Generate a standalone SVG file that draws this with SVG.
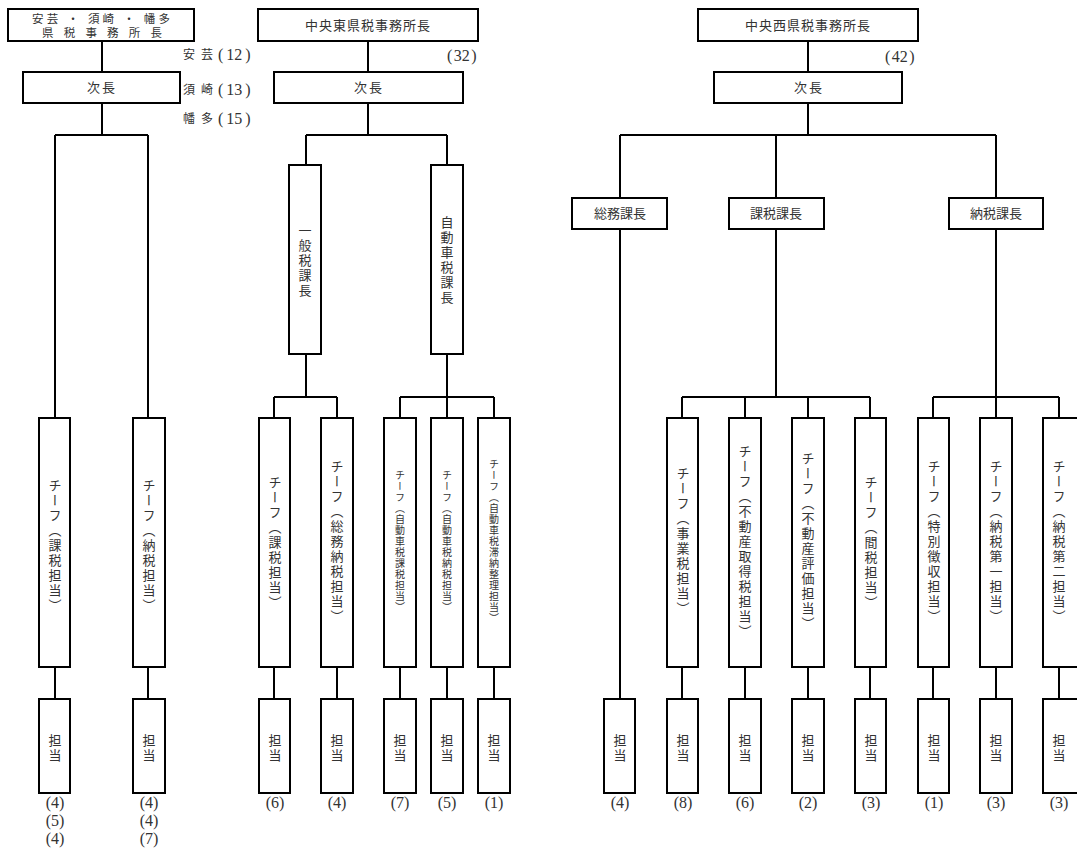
<svg xmlns="http://www.w3.org/2000/svg" width="1077" height="849" viewBox="0 0 1077 849">
<style>
.b{fill:#fff;stroke:#000;stroke-width:2}
.c{fill:none;stroke:#000;stroke-width:2}
.t{font-family:"Noto Sans CJK JP","Noto Sans",sans-serif;font-size:13px;fill:#333;text-anchor:middle}
.t2{font-family:"Noto Sans CJK JP","Noto Sans",sans-serif;font-size:11.5px;fill:#333}
.vs{font-family:"Noto Sans CJK JP","Noto Sans",sans-serif;font-size:10px;fill:#333;text-anchor:middle;writing-mode:vertical-rl;letter-spacing:1px}
.vk{font-family:"Noto Sans CJK JP","Noto Sans",sans-serif;font-size:13px;fill:#333;text-anchor:middle;writing-mode:vertical-rl;letter-spacing:2px}
.n{font-family:"Liberation Serif","Noto Sans CJK JP",serif;font-size:16px;fill:#333;text-anchor:middle}
.l{font-family:"Liberation Serif","Noto Sans CJK JP",serif;font-size:16px;fill:#333}
.lj{font-family:"Noto Sans CJK JP",sans-serif;font-size:12px;fill:#333;letter-spacing:6px}
</style>
<rect width="1077" height="849" fill="#fff"/>
<g id="connectors">
<path class="c" d="M102 41V72M102 103V135M55 135H148M55 135V418M148 135V418M55 667V699M148 667V699"/>
<path class="c" d="M368 41V72M368 103V135M306 135H447M306 135V165M447 135V165M306 354V397M447 354V397M274 397H337M274 397V418M337 397V418M400 397H494M400 397V418M447 397V418M494 397V418M274 667V699M337 667V699M400 667V699M447 667V699M494 667V699"/>
<path class="c" d="M808 41V72M808 103V135M620 135H996M620 135V198M776 135V198M996 135V198M620 229V699M776 229V397M682 397H870M682 397V418M745 397V418M808 397V418M870 397V418M996 229V397M933 397H1059M933 397V418M996 397V418M1059 397V418M682 667V699M745 667V699M808 667V699M870 667V699M933 667V699M996 667V699M1059 667V699"/>
</g>
<g id="n-aki-chief"><rect class="b" x="8" y="9" width="186" height="32"/><text class="t2" x="32" y="23" textLength="138" lengthAdjust="spacing">安芸 ・ 須崎 ・ 幡多</text><text class="t2" x="42" y="37" textLength="120" lengthAdjust="spacing">県税事務所長</text></g>
<g id="n-aki-deputy"><rect class="b" x="23" y="72" width="157" height="31"/><text class="t" x="102" y="92" letter-spacing="2">次長</text></g>
<g id="n-aki-counts">
<text class="lj" x="183" y="59">安芸</text><text class="l" x="218" y="60">(<tspan dx="3">12</tspan><tspan dx="3">)</tspan></text>
<text class="lj" x="183" y="94">須崎</text><text class="l" x="218" y="95">(<tspan dx="3">13</tspan><tspan dx="3">)</tspan></text>
<text class="lj" x="183" y="123">幡多</text><text class="l" x="218" y="124">(<tspan dx="3">15</tspan><tspan dx="3">)</tspan></text>
</g>
<g id="n-aki-c1"><rect class="b" x="39" y="418" width="31" height="249"/><text class="vk" x="55" y="546">チーフ（課税担当）</text></g>
<g id="n-aki-c2"><rect class="b" x="133" y="418" width="32" height="249"/><text class="vk" x="149" y="546">チーフ（納税担当）</text></g>
<g id="n-aki-s1"><rect class="b" x="39" y="699" width="31" height="94"/><text class="vk" x="55" y="749">担当</text><text class="n" x="55" y="808">(4)</text><text class="n" x="55" y="826">(5)</text><text class="n" x="55" y="844">(4)</text></g>
<g id="n-aki-s2"><rect class="b" x="133" y="699" width="32" height="94"/><text class="vk" x="149" y="749">担当</text><text class="n" x="149" y="808">(4)</text><text class="n" x="149" y="826">(4)</text><text class="n" x="149" y="844">(7)</text></g>

<g id="n-east-chief"><rect class="b" x="258" y="9" width="220" height="32"/><text class="t" x="368" y="30" letter-spacing="1">中央東県税事務所長</text></g>
<text class="l" x="447" y="61">(<tspan dx="1.5">32</tspan><tspan dx="1.5">)</tspan></text>
<g id="n-east-deputy"><rect class="b" x="274" y="72" width="189" height="31"/><text class="t" x="369" y="92" letter-spacing="2">次長</text></g>
<g id="n-east-k1"><rect class="b" x="289" y="165" width="32" height="189"/><text class="vk" x="305" y="261" letter-spacing="3.5">一般税課長</text></g>
<g id="n-east-k2"><rect class="b" x="431" y="165" width="32" height="189"/><text class="vk" x="447" y="261" letter-spacing="2">自動車税課長</text></g>
<g id="n-east-c1"><rect class="b" x="259" y="418" width="31" height="249"/><text class="vk" x="275" y="543" letter-spacing="2">チーフ（課税担当）</text></g>
<g id="n-east-c2"><rect class="b" x="321" y="418" width="32" height="249"/><text class="vk" x="337" y="542" letter-spacing="1.5">チーフ（総務納税担当）</text></g>
<g id="n-east-c3"><rect class="b" x="384" y="418" width="32" height="249"/><text class="vs" x="400" y="542">チーフ（自動車税課税担当）</text></g>
<g id="n-east-c4"><rect class="b" x="431" y="418" width="32" height="249"/><text class="vs" x="447" y="542">チーフ（自動車税納税担当）</text></g>
<g id="n-east-c5"><rect class="b" x="478" y="418" width="32" height="249"/><text class="vs" x="494" y="542">チーフ（自動車税滞納整理担当）</text></g>
<g id="n-east-s1"><rect class="b" x="259" y="699" width="31" height="94"/><text class="vk" x="275" y="749">担当</text><text class="n" x="275" y="808">(6)</text></g>
<g id="n-east-s2"><rect class="b" x="321" y="699" width="32" height="94"/><text class="vk" x="337" y="749">担当</text><text class="n" x="337" y="808">(4)</text></g>
<g id="n-east-s3"><rect class="b" x="384" y="699" width="32" height="94"/><text class="vk" x="400" y="749">担当</text><text class="n" x="400" y="808">(7)</text></g>
<g id="n-east-s4"><rect class="b" x="431" y="699" width="32" height="94"/><text class="vk" x="447" y="749">担当</text><text class="n" x="447" y="808">(5)</text></g>
<g id="n-east-s5"><rect class="b" x="478" y="699" width="32" height="94"/><text class="vk" x="494" y="749">担当</text><text class="n" x="494" y="808">(1)</text></g>

<g id="n-west-chief"><rect class="b" x="698" y="9" width="220" height="32"/><text class="t" x="808" y="30" letter-spacing="1">中央西県税事務所長</text></g>
<text class="l" x="885" y="62">(<tspan dx="1.5">42</tspan><tspan dx="1.5">)</tspan></text>
<g id="n-west-deputy"><rect class="b" x="714" y="72" width="188" height="31"/><text class="t" x="809" y="92" letter-spacing="2">次長</text></g>
<g id="n-west-k1"><rect class="b" x="572" y="198" width="95" height="31"/><text class="t" x="620" y="218">総務課長</text></g>
<g id="n-west-k2"><rect class="b" x="729" y="198" width="95" height="31"/><text class="t" x="776" y="218">課税課長</text></g>
<g id="n-west-k3"><rect class="b" x="949" y="198" width="94" height="31"/><text class="t" x="996" y="218">納税課長</text></g>
<g id="n-west-c1"><rect class="b" x="667" y="418" width="31" height="249"/><text class="vk" x="683" y="542" letter-spacing="1.5">チーフ（事業税担当）</text></g>
<g id="n-west-c2"><rect class="b" x="729" y="418" width="32" height="249"/><text class="vk" x="745" y="542" letter-spacing="1.5">チーフ（不動産取得税担当）</text></g>
<g id="n-west-c3"><rect class="b" x="792" y="418" width="32" height="249"/><text class="vk" x="808" y="542" letter-spacing="1.5">チーフ（不動産評価担当）</text></g>
<g id="n-west-c4"><rect class="b" x="855" y="418" width="31" height="249"/><text class="vk" x="871" y="543" letter-spacing="1.5">チーフ（間税担当）</text></g>
<g id="n-west-c5"><rect class="b" x="918" y="418" width="31" height="249"/><text class="vk" x="934" y="542" letter-spacing="1.5">チーフ（特別徴収担当）</text></g>
<g id="n-west-c6"><rect class="b" x="980" y="418" width="32" height="249"/><text class="vk" x="996" y="542" letter-spacing="1.5">チーフ（納税第一担当）</text></g>
<g id="n-west-c7"><rect class="b" x="1043" y="418" width="40" height="249"/><text class="vk" x="1059" y="542" letter-spacing="1.5">チーフ（納税第二担当）</text></g>
<g id="n-west-s1"><rect class="b" x="604" y="699" width="31" height="94"/><text class="vk" x="620" y="749">担当</text><text class="n" x="620" y="808">(4)</text></g>
<g id="n-west-s2"><rect class="b" x="667" y="699" width="31" height="94"/><text class="vk" x="683" y="749">担当</text><text class="n" x="683" y="808">(8)</text></g>
<g id="n-west-s3"><rect class="b" x="729" y="699" width="32" height="94"/><text class="vk" x="745" y="749">担当</text><text class="n" x="745" y="808">(6)</text></g>
<g id="n-west-s4"><rect class="b" x="792" y="699" width="32" height="94"/><text class="vk" x="808" y="749">担当</text><text class="n" x="808" y="808">(2)</text></g>
<g id="n-west-s5"><rect class="b" x="855" y="699" width="31" height="94"/><text class="vk" x="871" y="749">担当</text><text class="n" x="871" y="808">(3)</text></g>
<g id="n-west-s6"><rect class="b" x="918" y="699" width="31" height="94"/><text class="vk" x="934" y="749">担当</text><text class="n" x="934" y="808">(1)</text></g>
<g id="n-west-s7"><rect class="b" x="980" y="699" width="32" height="94"/><text class="vk" x="996" y="749">担当</text><text class="n" x="996" y="808">(3)</text></g>
<g id="n-west-s8"><rect class="b" x="1043" y="699" width="40" height="94"/><text class="vk" x="1059" y="749">担当</text><text class="n" x="1059" y="808">(3)</text></g>
</svg>
